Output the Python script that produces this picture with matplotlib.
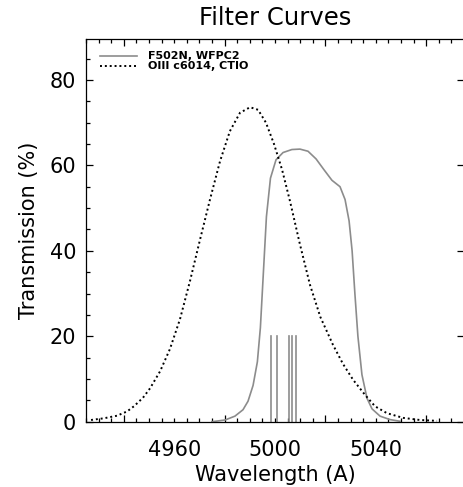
import matplotlib
matplotlib.use("Agg")
import matplotlib.pyplot as plt
from matplotlib.ticker import FixedLocator, FuncFormatter, MultipleLocator

# F502N, WFPC2 (solid gray)
wfpc2_wave = [4975.0, 4980.2, 4984.1, 4987.3, 4989.3, 4991.3, 4993.0, 4994.2,
              4995.4, 4996.6, 4998.2, 5000.4, 5003.2, 5006.7, 5009.9, 5013.1,
              5016.3, 5019.4, 5022.6, 5025.8, 5027.8, 5029.4, 5030.6, 5031.7,
              5032.9, 5034.5, 5036.5, 5038.5, 5041.7, 5045.6, 5049.6]
wfpc2_trans = [0.0, 0.4, 1.3, 2.8, 4.8, 8.5, 14.0, 22.0,
               35.0, 48.0, 57.0, 61.3, 63.0, 63.7, 63.8, 63.3,
               61.5, 59.0, 56.5, 55.0, 52.0, 47.0, 40.0, 30.0,
               20.0, 11.0, 5.5, 3.0, 1.3, 0.5, 0.1]

# OIII c6014, CTIO (dotted black)
ctio_wave = [4927.0, 4932.1, 4937.3, 4941.3, 4944.0, 4947.6, 4950.4, 4954.4,
             4958.3, 4962.3, 4966.3, 4970.2, 4974.2, 4978.2, 4982.1, 4986.1,
             4990.1, 4993.3, 4996.4, 4999.6, 5002.8, 5006.0, 5009.9, 5013.9,
             5018.0, 5023.0, 5027.0, 5031.0, 5035.7, 5039.7, 5044.4,
             5050.8, 5057.5, 5064.3]
ctio_trans = [0.4, 0.8, 1.4, 2.4, 3.6, 5.6, 7.8, 11.8,
              17.0, 24.0, 33.0, 42.5, 52.0, 61.0, 68.0, 72.3,
              73.6, 73.0, 70.0, 65.0, 59.0, 51.5, 41.5, 32.0,
              24.5, 18.0, 13.5, 9.8, 6.3, 3.6, 2.0,
              0.9, 0.4, 0.2]

# emission line markers
line_waves = [4998.3, 5000.8, 5005.6, 5006.8, 5008.2]
line_height = 20.0

x_labels = [4960, 5000, 5040]
GRAY = "#8c8c8c"

fig = plt.figure(figsize=(4.63, 4.87), dpi=100)
ax = fig.add_axes([86 / 463, 65.3 / 487, 378 / 463, 382.4 / 487])

ax.plot(wfpc2_wave, wfpc2_trans, color=GRAY, lw=1.2, label="F502N, WFPC2")
ax.plot(ctio_wave, ctio_trans, color="black", lw=1.4,
        ls=(0, (1.0, 1.5)), label="OIII c6014, CTIO")
for w in line_waves:
    ax.plot([w, w], [0, line_height], color=GRAY, lw=1.2)

ax.set_xlim(4925, 5075)
ax.set_ylim(0, 89.5)

# x: long ticks every 40 A (unlabelled), short every 5 A, labels at 4960/5000/5040
ax.xaxis.set_major_locator(FixedLocator([4940, 4980, 5020, 5060]))
ax.xaxis.set_major_formatter(FuncFormatter(lambda v, p: ""))
ax.xaxis.set_minor_locator(MultipleLocator(5))
ax.xaxis.set_minor_formatter(FuncFormatter(
    lambda v, p: f"{int(round(v))}" if int(round(v)) in x_labels else ""))
ax.yaxis.set_major_locator(MultipleLocator(20))
ax.yaxis.set_minor_locator(MultipleLocator(5))

ax.tick_params(which="both", direction="in", top=True, right=True,
               width=0.9, labelsize=15)
ax.tick_params(which="major", length=5)
ax.tick_params(which="minor", length=2.8)
ax.tick_params(axis="x", which="minor", pad=13)
ax.tick_params(axis="y", which="major", pad=7)
ax.tick_params(axis="y", which="minor", right=False)
for s in ax.spines.values():
    s.set_linewidth(0.9)

ax.set_title("Filter Curves", fontsize=17.5, pad=10)
ax.set_xlabel("Wavelength (A)", fontsize=15, labelpad=4)
ax.set_ylabel("Transmission (%)", fontsize=15, labelpad=8)

ax.legend(loc="upper left", frameon=False, handlelength=3.3,
          handletextpad=1.0, labelspacing=0.0, borderaxespad=0.0,
          bbox_to_anchor=(0.025, 0.98),
          prop={"weight": "bold", "size": 8.0})

fig.savefig("out.png", dpi=100)
